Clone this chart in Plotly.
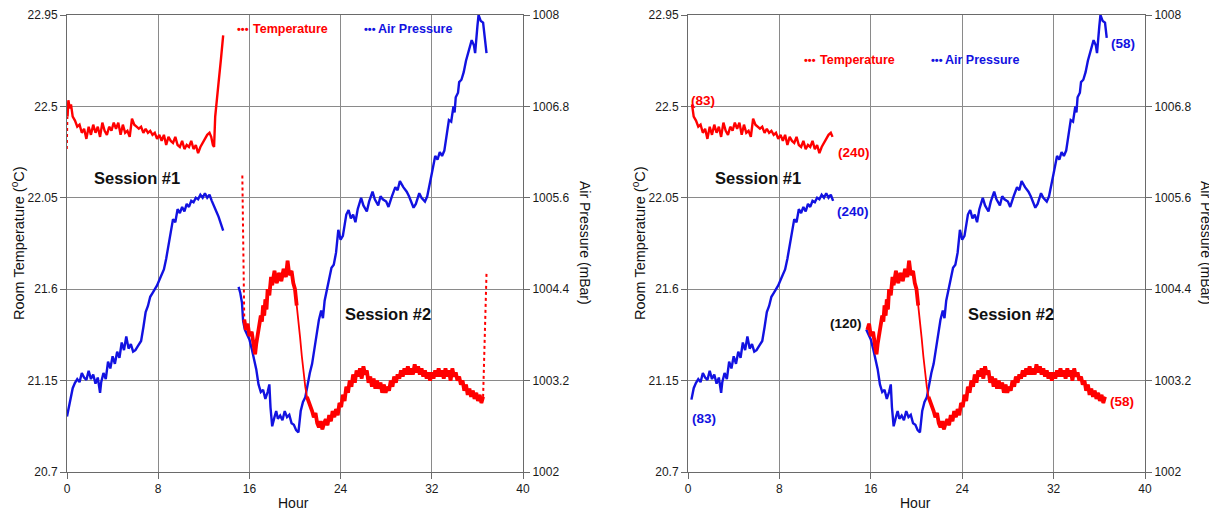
import plotly.graph_objects as go

# ------------------------------------------------------------------ data
# Session 1 temperature: first readings while the logger settles (drawn dotted)
temp1_start_hours = [0.0, 0.02, 0.05]
temp1_start_vals = [22.29, 22.37, 22.45]

# Session 1 room temperature (deg C) vs hour (left panel, full record)
temp1_hours = [0.05, 0.12, 0.25, 0.35, 0.5, 0.7, 0.9,
               1.1, 1.3, 1.5, 1.7, 1.9, 2.1, 2.3, 2.5, 2.7, 2.9,
               3.1, 3.3, 3.5, 3.7, 3.9, 4.1, 4.3, 4.5, 4.7, 4.9,
               5.1, 5.3, 5.5, 5.7, 5.9, 6.1, 6.3, 6.5, 6.7, 6.9,
               7.1, 7.3, 7.5, 7.7, 7.9, 8.1, 8.3, 8.5, 8.7, 8.9,
               9.1, 9.3, 9.5, 9.7, 9.9, 10.1, 10.3, 10.5, 10.7, 10.9,
               11.1, 11.3, 11.5, 11.7, 11.9, 12.1, 12.3, 12.5,
               12.65, 12.8, 12.9, 13.0, 13.1, 13.3, 13.5, 13.7]
temp1_vals = [22.45, 22.53, 22.49, 22.51, 22.45, 22.43, 22.40,
              22.41, 22.37, 22.39, 22.34, 22.40, 22.36, 22.41, 22.37, 22.40, 22.35,
              22.42, 22.38, 22.36, 22.40, 22.38, 22.42, 22.39, 22.42, 22.36, 22.41,
              22.37, 22.38, 22.35, 22.44, 22.41, 22.40, 22.39, 22.40, 22.37, 22.39,
              22.37, 22.38, 22.36, 22.37, 22.34, 22.36, 22.33, 22.36, 22.31, 22.35,
              22.33, 22.32, 22.35, 22.31, 22.30, 22.33, 22.29, 22.31, 22.30, 22.33,
              22.29, 22.31, 22.27, 22.30, 22.32, 22.34, 22.36, 22.37,
              22.35, 22.31, 22.30, 22.45, 22.52, 22.62, 22.73, 22.85]

# Session 1 air pressure (mBar)
pres1_hours = [0.0, 0.15, 0.3,
               0.5, 0.7, 0.9, 1.1, 1.3, 1.5, 1.7, 1.9, 2.1, 2.3, 2.5, 2.7, 2.9,
               3.0,
               3.2, 3.4, 3.6, 3.8, 4.0, 4.2, 4.4, 4.6, 4.8, 5.0, 5.2, 5.4, 5.6, 5.8, 6.0, 6.2,
               6.5, 6.7, 6.9, 7.1, 7.3, 7.5, 7.7, 7.9, 8.1, 8.3, 8.5, 8.7, 8.9,
               9.1, 9.3, 9.5, 9.7, 9.9, 10.1, 10.3, 10.5, 10.7, 10.9,
               11.1, 11.3, 11.5, 11.7, 11.9, 12.1, 12.3, 12.5, 12.7, 12.9,
               13.1, 13.3, 13.5, 13.7]
pres1_vals = [1002.73, 1002.85, 1002.95,
              1003.10, 1003.17, 1003.22, 1003.18, 1003.30, 1003.24, 1003.21, 1003.33,
              1003.22, 1003.28, 1003.16, 1003.24, 1003.04,
              1003.18,
              1003.30, 1003.22, 1003.45, 1003.36, 1003.52, 1003.42, 1003.58, 1003.50,
              1003.70, 1003.60, 1003.78, 1003.62, 1003.68, 1003.58, 1003.60, 1003.65,
              1003.72, 1003.90, 1004.10, 1004.18, 1004.30, 1004.35, 1004.40, 1004.45,
              1004.52, 1004.60, 1004.66, 1004.80, 1004.98,
              1005.20, 1005.32, 1005.28, 1005.45, 1005.40, 1005.48, 1005.42, 1005.52,
              1005.48, 1005.56,
              1005.54, 1005.60, 1005.58, 1005.64, 1005.60, 1005.66, 1005.60, 1005.64,
              1005.56, 1005.48,
              1005.42, 1005.35, 1005.25, 1005.17]

# Session 2 temperature: fast drop when logging restarts (drawn dotted)
temp2_start_hours = [15.38, 15.40, 15.41, 15.42, 15.44, 15.47, 15.55]
temp2_start_vals = [22.16, 22.04, 21.96, 22.01, 21.90, 21.70, 21.45]

# Session 2 temperature (main record)
temp2_hours = [15.55, 15.7, 15.85, 16.0, 16.2, 16.4, 16.5, 16.6, 16.8, 17.0,
               17.1, 17.2, 17.3, 17.4, 17.5, 17.6, 17.75, 17.9, 18.0, 18.2,
               18.4, 18.6, 18.8, 19.0, 19.2, 19.35, 19.5, 19.7, 19.85, 20.0,
               20.15, 20.3, 20.45, 20.6, 20.75, 20.9, 21.05, 21.2, 21.35, 21.5,
               21.65, 21.8, 21.95, 22.1, 22.25, 22.4, 22.55, 22.7, 22.85, 23.0,
               23.15, 23.3, 23.45, 23.6, 23.75, 23.9, 24.05, 24.2, 24.35, 24.5,
               24.65, 24.8, 24.95, 25.1, 25.25, 25.4, 25.55, 25.7, 25.85, 26.0,
               26.15, 26.3, 26.45, 26.6, 26.75, 26.9, 27.05, 27.2, 27.35, 27.5,
               27.65, 27.8, 27.95, 28.1, 28.25, 28.4, 28.55, 28.7, 28.85, 29.0,
               29.15, 29.3, 29.45, 29.6, 29.75, 29.9, 30.05, 30.2, 30.35, 30.5,
               30.65, 30.8, 30.95, 31.1, 31.25, 31.4, 31.55, 31.7, 31.85, 32.0,
               32.15, 32.3, 32.45, 32.6, 32.75, 32.9, 33.05, 33.2, 33.35, 33.5,
               33.65, 33.8, 33.95, 34.1, 34.25, 34.4, 34.55, 34.7, 34.85, 35.0,
               35.15, 35.3, 35.45, 35.6, 35.75, 35.9, 36.05, 36.2, 36.35, 36.5]
temp2_vals = [21.45, 21.40, 21.43, 21.37, 21.39, 21.31, 21.28, 21.33, 21.40, 21.47,
              21.44, 21.52, 21.47, 21.55, 21.50, 21.60, 21.57, 21.66, 21.62, 21.69,
              21.63, 21.68, 21.64, 21.70, 21.66, 21.74, 21.67, 21.69, 21.63, 21.60,
              21.52, 21.45, 21.36, 21.27, 21.19, 21.12, 21.07, 21.05, 21.02, 21.00,
              20.97, 20.99, 20.94, 20.92, 20.95, 20.91, 20.94, 20.96, 20.93, 20.98,
              20.95, 21.00, 20.97, 21.01, 20.98, 21.04, 21.02, 21.08, 21.05, 21.12,
              21.09, 21.15, 21.12, 21.18, 21.14, 21.20, 21.17, 21.21, 21.16, 21.22,
              21.18, 21.20, 21.14, 21.17, 21.12, 21.16, 21.11, 21.15, 21.11, 21.14,
              21.09, 21.13, 21.09, 21.12, 21.10, 21.15, 21.12, 21.17, 21.14, 21.18,
              21.16, 21.20, 21.17, 21.21, 21.18, 21.22, 21.18, 21.21, 21.18, 21.23,
              21.19, 21.22, 21.18, 21.21, 21.17, 21.20, 21.16, 21.19, 21.15, 21.19,
              21.16, 21.20, 21.17, 21.21, 21.17, 21.20, 21.16, 21.21, 21.17, 21.20,
              21.15, 21.21, 21.17, 21.19, 21.15, 21.17, 21.13, 21.15, 21.10, 21.13,
              21.08, 21.11, 21.07, 21.10, 21.06, 21.09, 21.05, 21.08, 21.04, 21.07]

# Session 2 temperature: jump at the end of the record (drawn dotted)
temp2_end_hours = [36.5, 36.58, 36.65, 36.72, 36.8]
temp2_end_vals = [21.07, 21.25, 21.42, 21.58, 21.68]

# Session 2 air pressure (mBar)
pres2_hours = [15.05, 15.2, 15.35, 15.45, 15.6, 15.8, 16.0, 16.2, 16.4, 16.6,
               16.8, 17.0, 17.2, 17.4, 17.6, 17.75, 17.85, 18.0, 18.2, 18.35,
               18.5, 18.7, 18.9, 19.1, 19.3, 19.5, 19.7, 19.9, 20.1, 20.3,
               20.5, 20.7, 20.9, 21.1, 21.3, 21.5, 21.7, 21.9, 22.1, 22.3,
               22.45, 22.6, 22.8, 23.0, 23.2, 23.4, 23.6, 23.8, 24.0, 24.2,
               24.5, 24.7, 24.9, 25.1, 25.3, 25.5, 25.8, 26.0, 26.3, 26.5,
               26.8, 27.0, 27.3, 27.5, 27.7, 28.0, 28.2, 28.5, 28.8, 29.0,
               29.2, 29.5, 29.8, 30.0, 30.2, 30.4, 30.6, 30.9, 31.1, 31.4,
               31.6, 31.8, 32.0, 32.3, 32.5, 32.7, 32.9, 33.1, 33.3, 33.5,
               33.7, 33.9, 34.0, 34.1, 34.3, 34.4, 34.6, 34.8, 35.0, 35.2,
               35.5, 35.7, 35.8, 36.0, 36.1, 36.3, 36.5, 36.65, 36.8]
pres2_vals = [1004.43, 1004.35, 1004.22, 1003.98, 1003.87, 1003.80, 1003.74, 1003.62, 1003.50, 1003.35,
              1003.15, 1003.05, 1003.08, 1002.96, 1003.05, 1003.15, 1002.85, 1002.60, 1002.72, 1002.80,
              1002.70, 1002.74, 1002.68, 1002.80, 1002.72, 1002.75, 1002.64, 1002.62, 1002.55, 1002.52,
              1002.80, 1002.92, 1002.98, 1003.15, 1003.30, 1003.42, 1003.62, 1003.86, 1004.00, 1004.12,
              1004.02, 1004.25, 1004.40, 1004.55, 1004.68, 1004.72, 1004.88, 1005.18, 1005.05, 1005.10,
              1005.38, 1005.44, 1005.33, 1005.38, 1005.28, 1005.45, 1005.60, 1005.50, 1005.42, 1005.55,
              1005.68, 1005.58, 1005.50, 1005.62, 1005.58, 1005.55, 1005.48, 1005.62, 1005.74, 1005.70,
              1005.82, 1005.74, 1005.68, 1005.62, 1005.55, 1005.47, 1005.52, 1005.66, 1005.60, 1005.55,
              1005.62, 1005.80, 1005.92, 1006.15, 1006.10, 1006.20, 1006.15, 1006.22, 1006.45, 1006.62,
              1006.60, 1006.80, 1006.72, 1006.92, 1006.98, 1007.12, 1007.15, 1007.25, 1007.40, 1007.52,
              1007.67, 1007.60, 1007.50, 1007.85, 1008.00, 1007.92, 1007.90, 1007.70, 1007.50]

# Windows kept in the trimmed (right) panel, in hours
session1_window = (0.3, 12.7)
session2_temp_window = (15.6, 36.5)
session2_pres_window = (15.6, 36.7)
# Parts of the session-2 temperature record that look like a dense, fuzzy band
temp2_band_windows = [(15.55, 20.15), (21.05, 36.5)]

# Axis ticks
hour_ticks = [0, 8, 16, 24, 32, 40]
temp_ticks = [20.7, 21.15, 21.6, 22.05, 22.5, 22.95]
temp_tick_labels = ["20.7", "21.15", "21.6", "22.05", "22.5", "22.95"]
pres_ticks = [1002, 1003.2, 1004.4, 1005.6, 1006.8, 1008]
pres_tick_labels = ["1002", "1003.2", "1004.4", "1005.6", "1006.8", "1008"]

for a, b in [(temp1_hours, temp1_vals), (pres1_hours, pres1_vals),
             (temp2_hours, temp2_vals), (pres2_hours, pres2_vals),
             (temp1_start_hours, temp1_start_vals),
             (temp2_start_hours, temp2_start_vals), (temp2_end_hours, temp2_end_vals)]:
    assert len(a) == len(b), (len(a), len(b))


def window(hours, vals, lohi):
    lo, hi = lohi
    pairs = [(h, v) for h, v in zip(hours, vals) if lo <= h <= hi]
    return [p[0] for p in pairs], [p[1] for p in pairs]


# ------------------------------------------------------------------ style
PAGE_W, PAGE_H = 1217, 514
OFF = 8                      # default page margin around the plot div
W, H = PAGE_W - OFF, PAGE_H - OFF
RED = "rgb(255,0,0)"
BLUE = "rgb(18,18,225)"
FONT = "Liberation Sans, Arial, Helvetica, sans-serif"
GRID = "#8a8a8a"
LINE = "#6a6a6a"
LW = 2.4
BAND_W = 3.8


def px_x(p):
    return (p - OFF) / W


def px_y(p):
    return 1 - (p - OFF) / H


y_dom = [px_y(472), px_y(15)]
left_dom = [px_x(67), px_x(523)]
right_dom = [px_x(688), px_x(1145)]

fig = go.Figure()


def line(x, y, color, xa, ya, width=LW, dash="solid"):
    fig.add_trace(go.Scatter(x=x, y=y, mode="lines", xaxis=xa, yaxis=ya,
                             line=dict(color=color, width=width, dash=dash),
                             showlegend=False, hoverinfo="x+y"))


def temp2_traces(xa, ya, lohi):
    xs, ys = window(temp2_hours, temp2_vals, lohi)
    line(xs, ys, RED, xa, ya, width=1.8)
    for lo, hi in temp2_band_windows:
        lo2, hi2 = max(lo, lohi[0]), min(hi, lohi[1])
        line(*window(temp2_hours, temp2_vals, (lo2, hi2)), RED, xa, ya, width=BAND_W)


# Left panel: full records (pressure first so temperature draws on top)
line(pres1_hours, pres1_vals, BLUE, "x", "y")
line(pres2_hours, pres2_vals, BLUE, "x", "y")
line(temp1_start_hours, temp1_start_vals, RED, "x", "y2", width=1.6, dash="dot")
line(temp1_hours, temp1_vals, RED, "x", "y2")
line(temp2_start_hours, temp2_start_vals, RED, "x", "y2", width=2, dash="dot")
temp2_traces("x", "y2", (0, 40))
line(temp2_end_hours, temp2_end_vals, RED, "x", "y2", width=2, dash="dot")

# Right panel: trimmed records
line(*window(pres1_hours, pres1_vals, session1_window), BLUE, "x2", "y3")
line(*window(pres2_hours, pres2_vals, session2_pres_window), BLUE, "x2", "y3")
line(*window(temp1_hours, temp1_vals, session1_window), RED, "x2", "y4")
temp2_traces("x2", "y4", session2_temp_window)

tickfont = dict(family=FONT, size=12, color="#1a1a1a")
xcommon = dict(range=[0, 40], tickvals=hour_ticks, ticktext=[str(t) for t in hour_ticks],
               showgrid=True, gridcolor=GRID, gridwidth=1, zeroline=False,
               showline=True, linecolor=LINE, linewidth=1, mirror=True,
               ticks="outside", ticklen=6, tickcolor=LINE, tickfont=tickfont,
               automargin=False)
# pressure axis is the base (right side, draws the grid), temperature overlays it (left side)
ypres = dict(range=[1002, 1008], tickvals=pres_ticks, ticktext=pres_tick_labels,
             showgrid=True, gridcolor=GRID, gridwidth=1, zeroline=False, side="right",
             showline=True, linecolor=LINE, linewidth=1,
             ticks="outside", ticklen=6, tickcolor=LINE, tickfont=tickfont,
             domain=y_dom, automargin=False)
ytemp = dict(range=[20.7, 22.95], tickvals=temp_ticks, ticktext=temp_tick_labels,
             showgrid=False, zeroline=False, side="left",
             showline=True, linecolor=LINE, linewidth=1,
             ticks="outside", ticklen=6, tickcolor=LINE, tickfont=tickfont,
             automargin=False)

fig.update_layout(
    width=W, height=H, margin=dict(l=0, r=0, t=0, b=0, autoexpand=False),
    paper_bgcolor="white", plot_bgcolor="white",
    xaxis=dict(domain=left_dom, anchor="y", **xcommon),
    yaxis=dict(anchor="x", **ypres),
    yaxis2=dict(anchor="x", overlaying="y", **ytemp),
    xaxis2=dict(domain=right_dom, anchor="y3", **xcommon),
    yaxis3=dict(anchor="x2", **ypres),
    yaxis4=dict(anchor="x2", overlaying="y3", **ytemp),
    showlegend=False,
)


def ann(xp, yp, text, size, color="#111", bold=False, angle=0):
    if bold:
        text = "<b>" + text + "</b>"
    fig.add_annotation(x=px_x(xp), y=px_y(yp), xref="paper", yref="paper",
                       text=text, showarrow=False, textangle=angle,
                       xanchor="center", yanchor="middle",
                       font=dict(family=FONT, size=size, color=color))


# Axis titles
for cx in (293, 915):
    ann(cx, 503, "Hour", 14)
for cx in (18, 639):
    ann(cx, 243, "Room Temperature (<sup>o</sup>C)", 14.5, angle=-90)
for cx in (585, 1206):
    ann(cx, 243, "Air Pressure (mBar)", 14, angle=90)

# Legends (drawn inside the plot area)
for dx, ty in ((0, 29), (567, 60)):
    ann(243 + dx, ty, "•••", 11, RED, bold=True)
    ann(290 + dx, ty, "Temperature", 12.5, RED, bold=True)
    ann(370 + dx, ty, "•••", 11, BLUE, bold=True)
    ann(415 + dx, ty, "Air Pressure", 12.5, BLUE, bold=True)

# Session labels
ann(137, 178, "Session #1", 16.5, bold=True)
ann(388, 314, "Session #2", 16.5, bold=True)
ann(758, 178, "Session #1", 16.5, bold=True)
ann(1011, 314, "Session #2", 16.5, bold=True)

# Sample-index labels on the trimmed panel
ann(703, 100, "(83)", 13.5, RED, bold=True)
ann(854, 152, "(240)", 13.5, RED, bold=True)
ann(853, 211, "(240)", 13.5, BLUE, bold=True)
ann(704, 418, "(83)", 13.5, BLUE, bold=True)
ann(846, 323, "(120)", 13.5, "#111", bold=True)
ann(1123, 43, "(58)", 13.5, BLUE, bold=True)
ann(1122, 401, "(58)", 13.5, RED, bold=True)

fig.write_html("out.html")
